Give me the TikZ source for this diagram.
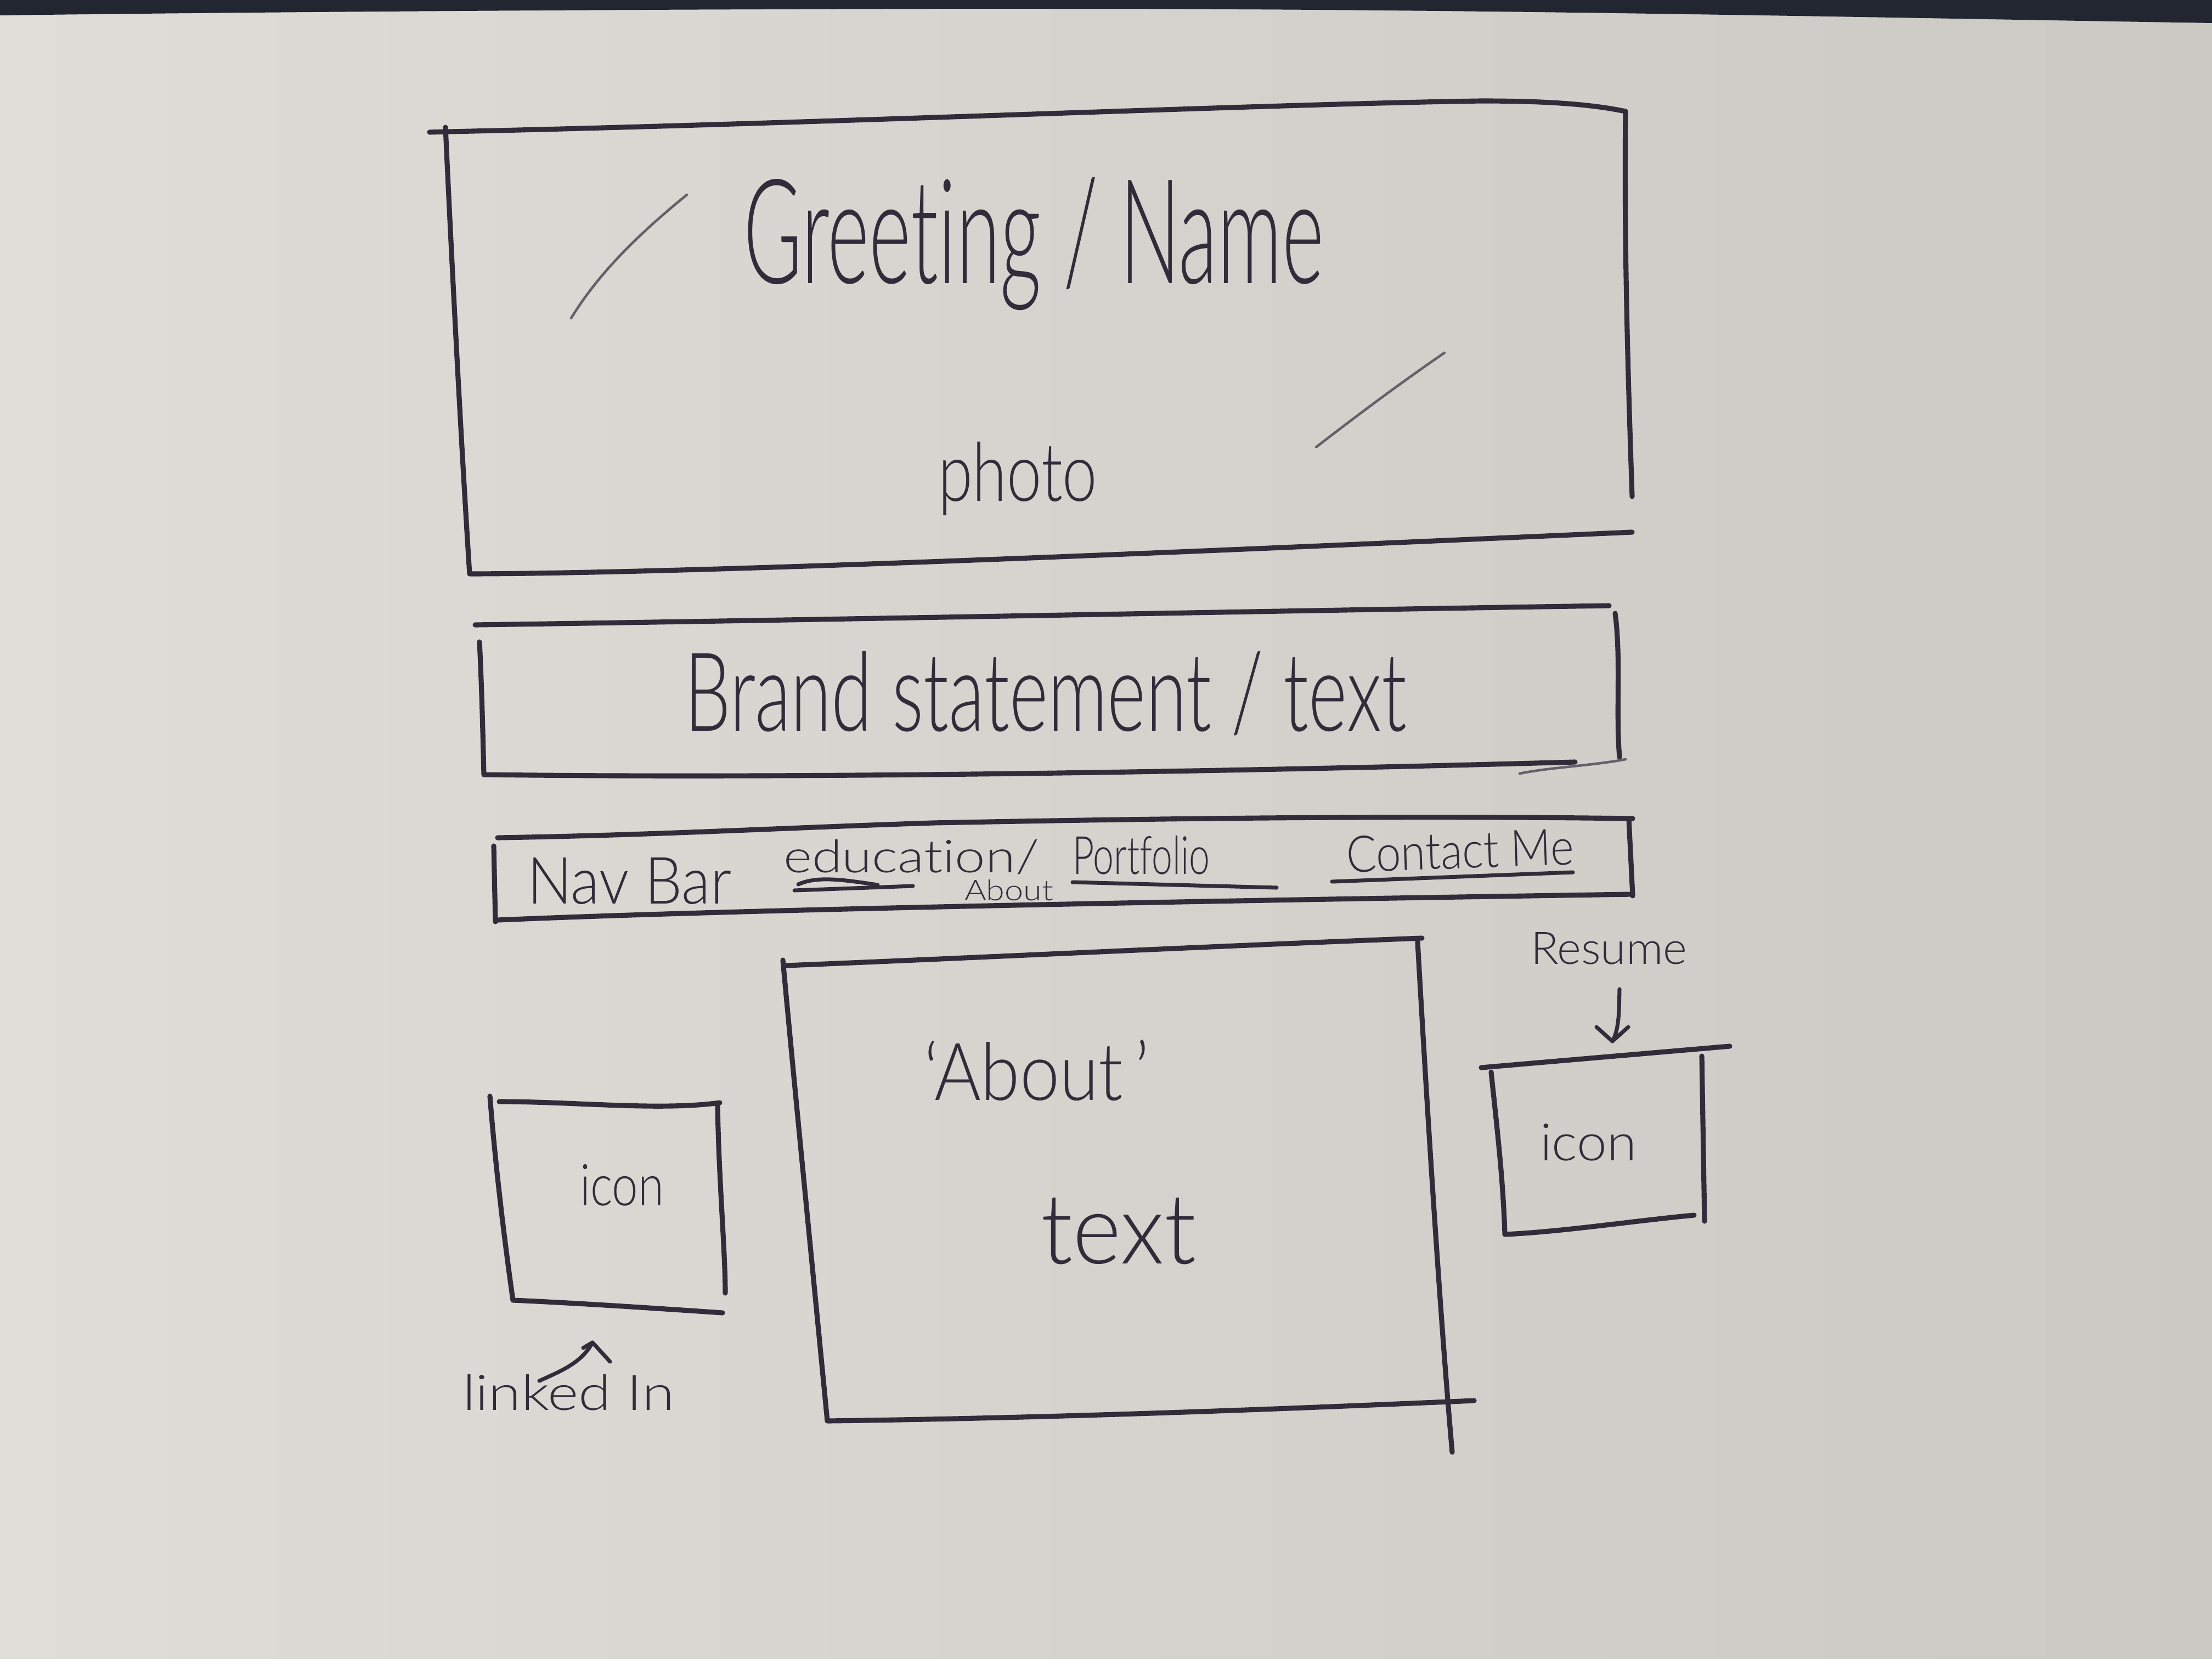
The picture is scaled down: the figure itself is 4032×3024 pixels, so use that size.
\documentclass[tikz,border=0pt]{standalone}
\usepackage{fontspec}
\usepackage{graphicx}
\newfontfamily\hand{Lato Light}[Ligatures=NoCommon]
% hand lettering: text squeezed to a given width and height
\newcommand\hw[3]{\resizebox{#1}{#2}{\hand #3}}
\definecolor{ink}{RGB}{48,44,58}
\definecolor{paperL}{RGB}{223,221,215}
\definecolor{paperR}{RGB}{203,201,195}
\definecolor{desk}{RGB}{34,38,48}
\begin{document}
\begin{tikzpicture}[x=0.01cm,y=-0.01cm,
  pen/.style={draw=ink,line width=2.6pt,line cap=round,line join=round},
  thinpen/.style={draw=ink,line width=2pt,line cap=round,line join=round},
  faint/.style={draw=ink!75,line width=1.3pt,line cap=round},
  lbl/.style={inner sep=0pt,outer sep=0pt,anchor=base west,text=ink}]
\useasboundingbox (0,0) rectangle (4032,3024);
% sheet of paper and the desk edge above it
\shade[left color=paperL,right color=paperR] (0,0) rectangle (4032,3024);
\fill[desk] (0,0) -- (4032,0) -- (4032,42) .. controls (3300,30) and (2600,14) .. (1700,16) .. controls (900,18) and (300,24) .. (0,28) -- cycle;

% header: greeting and photo
\draw[pen] (783,241) -- (818,240) .. controls (1500,225) and (2300,190) .. (2700,184) .. controls (2820,184) and (2900,190) .. (2963,203);
\draw[pen] (812,232) .. controls (822,450) and (840,800) .. (856,1046) .. controls (1300,1045) and (2300,1000) .. (2975,970);
\draw[pen] (2963,203) .. controls (2960,450) and (2968,700) .. (2975,905);
\draw[faint] (1041,580) .. controls (1090,500) and (1160,430) .. (1252,355);
\draw[faint] (2399,815) .. controls (2470,760) and (2550,700) .. (2633,643);
\node[lbl] (greet) at (1355,516) {\hw{10.57cm}{1.93cm}{Greeting / Name}};
\node[lbl] (photo) at (1710,913) {\hw{2.90cm}{1.08cm}{photo}};

% brand statement strip
\draw[pen] (866,1139) .. controls (1500,1130) and (2400,1112) .. (2933,1104);
\draw[pen] (874,1170) .. controls (878,1250) and (880,1330) .. (882,1412) .. controls (1500,1420) and (2300,1405) .. (2871,1389);
\draw[pen] (2944,1118) .. controls (2955,1200) and (2945,1300) .. (2952,1380);
\draw[faint] (2770,1410) .. controls (2830,1398) and (2900,1396) .. (2963,1384);
\node[lbl] (brand) at (1247,1332) {\hw{13.16cm}{1.45cm}{Brand statement / text}};

% navigation bar
\draw[pen] (900,1542) -- (903,1680);
\draw[pen] (907,1527) .. controls (1200,1522) and (1400,1510) .. (1700,1500) .. controls (2200,1490) and (2600,1487) .. (2976,1492);
\draw[pen] (907,1677) .. controls (1300,1660) and (2000,1645) .. (2976,1630);
\draw[pen] (2969,1493) -- (2976,1633);
\node[lbl] (nav) at (961,1647) {\hw{3.72cm}{0.84cm}{Nav Bar}};
\node[lbl] (edu) at (1428,1590) {\hw{4.66cm}{0.60cm}{education/}};
\node[lbl] (eduabout) at (1758,1641) {\hw{1.62cm}{0.38cm}{About}};
\node[lbl] (port) at (1955,1593) {\hw{2.50cm}{0.70cm}{Portfolio}};
\node[lbl,rotate=2] (contact) at (2455,1590) {\hw{4.15cm}{0.66cm}{Contact Me}};
\draw[thinpen] (1455,1612) .. controls (1490,1596) and (1540,1604) .. (1600,1613);
\draw[thinpen] (1448,1623) -- (1664,1615);
\draw[thinpen] (1955,1608) -- (2327,1618);
\draw[thinpen] (2428,1607) -- (2867,1590);

% about section
\draw[pen] (1427,1750) .. controls (1450,2000) and (1480,2300) .. (1508,2590) .. controls (1900,2585) and (2300,2570) .. (2687,2553);
\draw[pen] (1432,1760) .. controls (1800,1745) and (2200,1725) .. (2592,1710);
\draw[pen] (2584,1717) .. controls (2600,2000) and (2625,2400) .. (2647,2647);
\node[lbl] (abouthead) at (1684,2005) {\hw{4.11cm}{1.10cm}{‘About\,’}};
\node[lbl] (abouttext) at (1897,2303) {\hw{2.83cm}{1.20cm}{text}};

% LinkedIn icon
\draw[pen] (910,2008) .. controls (1050,2008) and (1200,2025) .. (1312,2010);
\draw[pen] (893,1998) .. controls (905,2150) and (925,2300) .. (935,2370) .. controls (1050,2375) and (1200,2385) .. (1317,2393);
\draw[pen] (1308,2013) .. controls (1310,2150) and (1322,2280) .. (1322,2357);
\node[lbl] (iconL) at (1057,2197) {\hw{1.53cm}{0.75cm}{icon}};
\node[lbl] (linkedin) at (843,2570) {\hw{3.86cm}{0.65cm}{linked In}};
\coordinate (lkTip) at (1080,2447);
\draw[thinpen] (983,2517) .. controls (1020,2500) and (1060,2485) .. (lkTip);
\draw[thinpen] (1063,2457) -- (lkTip) -- (1112,2482);

% resume icon
\draw[pen] (2700,1946) -- (3153,1907);
\draw[pen] (2718,1954) .. controls (2728,2050) and (2740,2150) .. (2743,2250) .. controls (2850,2245) and (2980,2225) .. (3088,2215);
\draw[pen] (3102,1925) -- (3107,2226);
\node[lbl] (iconR) at (2807,2115) {\hw{1.76cm}{0.67cm}{icon}};
\node[lbl] (resume) at (2790,1757) {\hw{2.85cm}{0.58cm}{Resume}};
\coordinate (rsTip) at (2939,1898);
\draw[thinpen] (2952,1803) .. controls (2951,1840) and (2952,1875) .. (rsTip);
\draw[thinpen] (2910,1872) -- (rsTip) -- (2968,1872);
\end{tikzpicture}
\end{document}
